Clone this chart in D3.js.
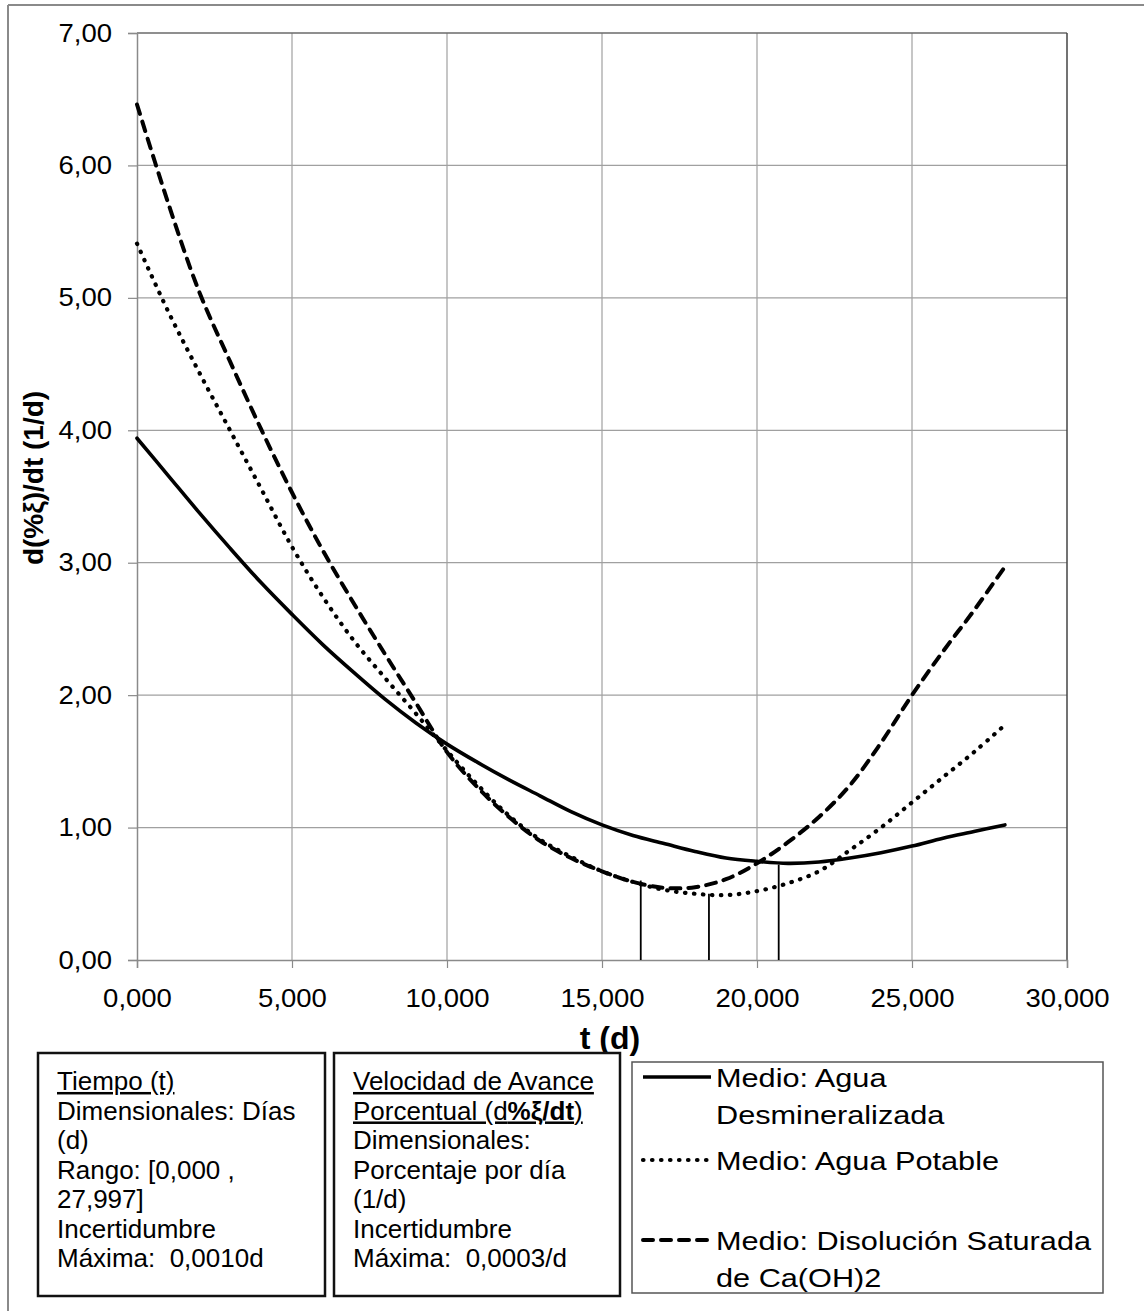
<!DOCTYPE html>
<html>
<head>
<meta charset="utf-8">
<script src="https://cdn.jsdelivr.net/npm/d3@7"></script>
<style>
  html, body { margin: 0; padding: 0; background: #fff; }
  svg { display: block; font-family: "Liberation Sans", Arial, sans-serif; }
  text { white-space: pre; }
</style>
</head>
<body>
<svg id="chart" width="1144" height="1311"></svg>
<script>
// Time axis (days) and rate curves d(%ξ)/dt for each medium
const tDias = [0, 1000, 2000, 3000, 4000, 5000, 6000, 7000, 8000, 9000, 10000,
  11000, 12000, 13000, 14000, 15000, 16000, 17000, 18000, 19000, 20000,
  21000, 22000, 23000, 24000, 25000, 26000, 27000, 27997];

const aguaDesmineralizada = [3.94, 3.66, 3.38, 3.11, 2.85, 2.61, 2.38, 2.17, 1.97, 1.79, 1.63,
  1.49, 1.36, 1.24, 1.12, 1.02, 0.94, 0.88, 0.82, 0.77, 0.745,
  0.73, 0.74, 0.77, 0.81, 0.86, 0.92, 0.97, 1.02];

const aguaPotable = [5.41, 4.90, 4.44, 4.00, 3.56, 3.12, 2.74, 2.41, 2.13, 1.86, 1.58,
  1.32, 1.09, 0.91, 0.78, 0.67, 0.59, 0.53, 0.50, 0.49, 0.52,
  0.58, 0.67, 0.83, 1.00, 1.19, 1.38, 1.57, 1.775];

const disolucionSaturada = [6.46, 5.72, 5.05, 4.52, 4.01, 3.53, 3.09, 2.69, 2.31, 1.94, 1.57,
  1.30, 1.08, 0.90, 0.77, 0.67, 0.59, 0.545, 0.55, 0.61, 0.73,
  0.89, 1.08, 1.32, 1.64, 2.00, 2.33, 2.64, 2.97];

// Drop lines marking the minima
const minimosT = [16250, 18450, 20700];
const minimosV = [0.60, 0.50, 0.72];

const xTicks = [0, 5000, 10000, 15000, 20000, 25000, 30000];
const yTicks = [0, 1, 2, 3, 4, 5, 6, 7];

const svg = d3.select("#chart");
const plotLeft = 137, plotRight = 1067, plotTop = 33, plotBottom = 960;

const x = d3.scaleLinear().domain([0, 30000]).range([plotLeft, plotRight]);
const y = d3.scaleLinear().domain([0, 7]).range([plotBottom, plotTop]);

// labels in the style "5,000" and "3,00"
const fmtXLabel = v => (v / 1000).toFixed(3).replace(".", ",");
const fmtY = v => v.toFixed(2).replace(".", ",");

// the lettering is set slightly wide
const tickStretch = 1.1, boxStretch = 1.04, legendStretch = 1.18;

// outer frame
svg.append("line").attr("x1", 8).attr("y1", 5).attr("x2", 1144).attr("y2", 5)
  .attr("stroke", "#8a8a8a").attr("stroke-width", 2);
svg.append("line").attr("x1", 8).attr("y1", 5).attr("x2", 8).attr("y2", 1311)
  .attr("stroke", "#8a8a8a").attr("stroke-width", 2);

// grid
const grid = svg.append("g");
grid.selectAll("line.v").data(xTicks.slice(1, -1)).join("line")
  .attr("x1", d => x(d)).attr("x2", d => x(d)).attr("y1", plotTop).attr("y2", plotBottom)
  .attr("stroke", "#a0a0a0").attr("stroke-width", 1.2);
grid.selectAll("line.h").data(yTicks.slice(1, -1)).join("line")
  .attr("x1", plotLeft).attr("x2", plotRight).attr("y1", d => y(d)).attr("y2", d => y(d))
  .attr("stroke", "#a0a0a0").attr("stroke-width", 1.2);

// plot border: top and right darker
svg.append("line").attr("x1", plotLeft).attr("x2", plotRight).attr("y1", plotTop).attr("y2", plotTop)
  .attr("stroke", "#6a6a6a").attr("stroke-width", 1.5);
svg.append("line").attr("x1", plotRight).attr("x2", plotRight).attr("y1", plotTop).attr("y2", plotBottom)
  .attr("stroke", "#444").attr("stroke-width", 1.5);

// axes
const xAxis = d3.axisBottom(x).tickValues(xTicks).tickSize(8).tickPadding(21).tickFormat(fmtXLabel);
const yAxis = d3.axisLeft(y).tickValues(yTicks).tickSize(9).tickPadding(16).tickFormat(fmtY);

const gx = svg.append("g").attr("transform", `translate(0,${plotBottom})`).call(xAxis);
const gy = svg.append("g").attr("transform", `translate(${plotLeft},0)`).call(yAxis);
[gx, gy].forEach(g => {
  g.select(".domain").attr("stroke", "#8a8a8a").attr("stroke-width", 1.5);
  g.selectAll(".tick line").attr("stroke", "#8a8a8a").attr("stroke-width", 1.2);
  g.selectAll(".tick text").attr("fill", "#000").style("font-size", "25px")
    .style("font-family", "'Liberation Sans', Arial, sans-serif")
    .attr("transform", `scale(${tickStretch},1)`);
});
gy.selectAll(".tick text").attr("x", -25 / tickStretch);

// axis titles
svg.append("text").attr("x", 610).attr("y", 1049).attr("text-anchor", "middle")
  .style("font-size", "32px").style("font-weight", "bold").text("t (d)");
svg.append("text").attr("transform", "translate(43,478) rotate(-90)").attr("text-anchor", "middle")
  .style("font-size", "28px").style("font-weight", "bold").text("d(%ξ)/dt (1/d)");

// drop lines
svg.append("g").selectAll("line").data(minimosT).join("line")
  .attr("x1", d => x(d)).attr("x2", d => x(d))
  .attr("y1", y(0)).attr("y2", (d, i) => y(minimosV[i]))
  .attr("stroke", "#000").attr("stroke-width", 1.8);

// curves
const styles = [
  { dash: null, width: 3.6 },
  { dash: "0.5,8.5", width: 4.2 },
  { dash: "10,8", width: 4 }
];
const seriesData = [aguaDesmineralizada, aguaPotable, disolucionSaturada];
const line = d3.line().x((d, i) => x(tDias[i])).y(d => y(d)).curve(d3.curveCatmullRom.alpha(0.5));

svg.append("g").selectAll("path").data(seriesData).join("path")
  .attr("d", d => line(d))
  .attr("fill", "none").attr("stroke", "#000")
  .attr("stroke-width", (d, i) => styles[i].width)
  .attr("stroke-linecap", "round")
  .attr("stroke-linejoin", "round")
  .attr("stroke-dasharray", (d, i) => styles[i].dash);

// info boxes
function box(x0, y0, w, h, stroke, sw) {
  svg.append("rect").attr("x", x0).attr("y", y0).attr("width", w).attr("height", h)
    .attr("fill", "#fff").attr("stroke", stroke).attr("stroke-width", sw);
}
box(38, 1053, 287, 243, "#111", 2.5);
box(334, 1053, 286, 243, "#111", 2.5);
box(632, 1062, 471, 231, "#555", 1.5);

function textLines(x0, y0, lines) {
  lines.forEach((ln, i) => {
    const t = svg.append("text")
      .attr("transform", `translate(${x0},${y0 + i * 29.5}) scale(${boxStretch},1)`)
      .style("font-size", "25px");
    ln.forEach(seg => {
      const s = t.append("tspan").text(seg.s);
      if (seg.b) s.style("font-weight", "bold");
      if (seg.u) s.attr("text-decoration", "underline");
    });
  });
}
textLines(57, 1090, [
  [{ s: "Tiempo (t)", u: true }],
  [{ s: "Dimensionales: Días" }],
  [{ s: "(d)" }],
  [{ s: "Rango: [0,000 ," }],
  [{ s: "27,997]" }],
  [{ s: "Incertidumbre" }],
  [{ s: "Máxima:  0,0010d" }]
]);
textLines(353, 1090, [
  [{ s: "Velocidad de Avance", u: true }],
  [{ s: "Porcentual (d", u: true }, { s: "%ξ/dt", u: true, b: true }, { s: ")", u: true }],
  [{ s: "Dimensionales:" }],
  [{ s: "Porcentaje por día" }],
  [{ s: "(1/d)" }],
  [{ s: "Incertidumbre" }],
  [{ s: "Máxima:  0,0003/d" }]
]);

// legend
const legendRows = [
  { y: 1077, lines: ["Medio: Agua", "Desmineralizada"] },
  { y: 1160, lines: ["Medio: Agua Potable"] },
  { y: 1240, lines: ["Medio: Disolución Saturada", "de Ca(OH)2"] }
];
const lg = svg.append("g");
legendRows.forEach((r, i) => {
  lg.append("line").attr("x1", 643).attr("x2", 711).attr("y1", r.y).attr("y2", r.y)
    .attr("stroke", "#000").attr("stroke-width", styles[i].width)
    .attr("stroke-dasharray", styles[i].dash)
    .attr("stroke-linecap", i === 0 ? "butt" : "round");
  r.lines.forEach((s, j) => {
    lg.append("text")
      .attr("transform", `translate(716,${r.y + 10 + j * 37}) scale(${legendStretch},1)`)
      .style("font-size", "26px").text(s);
  });
});
</script>
</body>
</html>
